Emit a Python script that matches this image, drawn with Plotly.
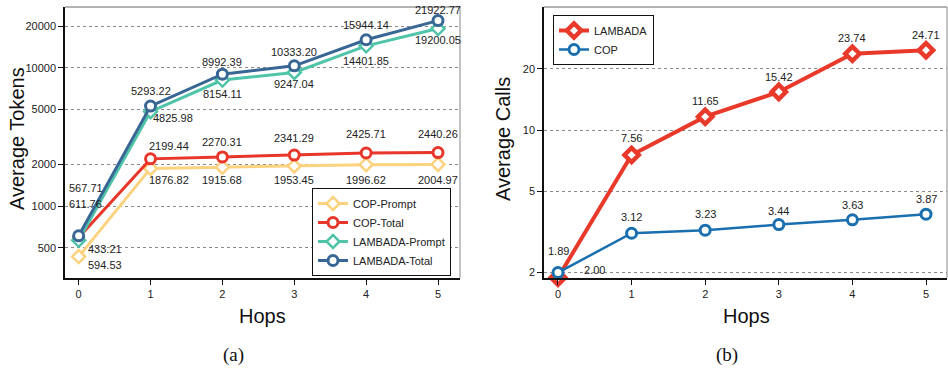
import numpy as np
import plotly.graph_objects as go

# ---------------- data ----------------
hops = [0, 1, 2, 3, 4, 5]
cop_prompt = [433.21, 1876.82, 1915.68, 1953.45, 1996.62, 2004.97]
cop_total = [594.53, 2199.44, 2270.31, 2341.29, 2425.71, 2440.26]
lambada_prompt = [567.71, 4825.98, 8154.11, 9247.04, 14401.85, 19200.05]
lambada_total = [611.76, 5293.22, 8992.39, 10333.20, 15944.14, 21922.77]
calls_lambada = [1.89, 7.56, 11.65, 15.42, 23.74, 24.71]
calls_cop = [2.00, 3.12, 3.23, 3.44, 3.63, 3.87]
token_ticks = [500, 1000, 2000, 5000, 10000, 20000]
calls_ticks = [2, 5, 10, 20]

# ---------------- styles ----------------
W, H = 948, 371
FONT = "Liberation Sans, Arial, Helvetica, sans-serif"
C_YEL, C_RED, C_TEAL, C_BLUE = "#FDD27E", "#E8362A", "#4FC4A9", "#386795"
C_RED2, C_BLUE2 = "#E8392B", "#1A6FAF"

def px_x(p):
    return p / W

def px_y(p):
    return 1 - p / H

# label offsets (dx right, dy down) in pixels
off_lam_total = [(7, -32), (0, -15), (0, -12), (0, -14), (0, -15), (0, -11)]
off_lam_prompt = [(7, -52), (22, 6), (0, 14), (0, 11), (0, 15), (0, 11)]
off_cop_total = [(26, 27), (18, -13), (0, -15), (0, -17), (0, -19), (0, -19)]
off_cop_prompt = [(26, -8), (18, 12), (0, 13), (0, 14), (0, 15), (0, 16)]
off_calls_lam = [(1, -27), (0, -17), (0, -16), (0, -15), (0, -16), (0, -15)]
off_calls_cop = [(37, -3), (0, -16), (0, -16), (0, -14), (0, -15), (0, -15)]

fig = go.Figure()

def add_series(x, y, name, color, symbol, xa, ya, legend, lw=3, ms=10, mlw=2.5, clip=True):
    fig.add_trace(go.Scatter(
        x=x, y=y, name=name, mode="lines+markers", xaxis=xa, yaxis=ya,
        legend=legend, cliponaxis=clip,
        line=dict(color=color, width=lw),
        marker=dict(symbol=symbol, size=ms, color="white",
                    line=dict(color=color, width=mlw)),
    ))

add_series(hops, cop_prompt, "COP-Prompt", C_YEL, "diamond", "x", "y", "legend", lw=3, ms=10, mlw=2.5)
add_series(hops, cop_total, "COP-Total", C_RED, "circle", "x", "y", "legend", lw=3, ms=10, mlw=3)
add_series(hops, lambada_prompt, "LAMBADA-Prompt", C_TEAL, "diamond", "x", "y", "legend", lw=3, ms=10, mlw=2.5)
add_series(hops, lambada_total, "LAMBADA-Total", C_BLUE, "circle", "x", "y", "legend", lw=3, ms=10, mlw=3)

add_series(hops, calls_lambada, "LAMBADA", C_RED2, "diamond", "x2", "y2", "legend2", lw=4, ms=11, mlw=4.5, clip=False)
add_series(hops, calls_cop, "COP", C_BLUE2, "circle", "x2", "y2", "legend2", lw=2.5, ms=10, mlw=3, clip=False)

annotations = []

def add_labels(x, y, offs, xref, yref):
    for xi, yi, (dx, dy) in zip(x, y, offs):
        annotations.append(dict(
            x=xi, y=np.log10(yi), xref=xref, yref=yref, text=f"{yi:.2f}",
            showarrow=False, xshift=dx, yshift=-dy,
            font=dict(family=FONT, size=11, color="#222"),
        ))

add_labels(hops, lambada_total, off_lam_total, "x", "y")
add_labels(hops, lambada_prompt, off_lam_prompt, "x", "y")
add_labels(hops, cop_total, off_cop_total, "x", "y")
add_labels(hops, cop_prompt, off_cop_prompt, "x", "y")
add_labels(hops, calls_lambada, off_calls_lam, "x2", "y2")
add_labels(hops, calls_cop, off_calls_cop, "x2", "y2")

# titles and captions
def text_ann(txt, x, y, size, angle=0, family=FONT):
    annotations.append(dict(
        text=txt, x=px_x(x), y=px_y(y), xref="paper", yref="paper",
        showarrow=False, textangle=angle, xanchor="center", yanchor="middle",
        font=dict(family=family, size=size, color="#111"),
    ))

text_ann("Average Tokens", 17, 139, 20, -90)
text_ann("Average Calls", 503, 139, 20, -90)
text_ann("Hops", 262, 316, 20)
text_ann("Hops", 746, 316, 20)
SERIF = "Liberation Serif, Times New Roman, serif"
text_ann("(a)", 233, 355, 19, family=SERIF)
text_ann("(b)", 727, 355, 19, family=SERIF)

# plot areas
L_X0, L_X1 = 65, 460
R_X0, R_X1 = 544, 947
Y_TOP, Y_BOT = 7, 278

axis_common = dict(
    showline=True, linecolor="#111", linewidth=1.5, mirror=False,
    ticks="outside", ticklen=5, tickwidth=1.3, tickcolor="#111",
    tickfont=dict(family=FONT, size=11, color="#222"), zeroline=False,
)

shapes = []
for x0, x1 in [(L_X0, L_X1), (R_X0, R_X1)]:
    shapes.append(dict(type="line", xref="paper", yref="paper",
                       x0=px_x(x0), x1=px_x(x1), y0=px_y(Y_TOP), y1=px_y(Y_TOP),
                       line=dict(color="#666", width=1)))
    shapes.append(dict(type="line", xref="paper", yref="paper",
                       x0=px_x(x1), x1=px_x(x1), y0=px_y(Y_TOP), y1=px_y(Y_BOT),
                       line=dict(color="#888", width=1)))

fig.update_layout(
    width=W, height=H, margin=dict(l=0, r=0, t=0, b=0),
    paper_bgcolor="white", plot_bgcolor="white",
    font=dict(family=FONT, size=11, color="#222"),
    xaxis=dict(domain=[px_x(L_X0), px_x(L_X1)], range=[-0.19, 5.306],
               tickvals=hops, showgrid=False, anchor="y", **axis_common),
    yaxis=dict(domain=[px_y(Y_BOT), px_y(Y_TOP)], type="log", range=[2.482, 4.439],
               tickvals=token_ticks, ticktext=[str(t) for t in token_ticks],
               showgrid=True, gridcolor="#8a8a8a", griddash="dot", gridwidth=1,
               anchor="x", **axis_common),
    xaxis2=dict(domain=[px_x(R_X0), px_x(R_X1)], range=[-0.19, 5.285],
                tickvals=hops, showgrid=False, anchor="y2", **axis_common),
    yaxis2=dict(domain=[px_y(Y_BOT), px_y(Y_TOP)], type="log", range=[0.2745, 1.605],
                tickvals=calls_ticks, ticktext=[str(t) for t in calls_ticks],
                showgrid=True, gridcolor="#8a8a8a", griddash="dot", gridwidth=1,
                anchor="x2", **axis_common),
    legend=dict(x=px_x(451), y=px_y(276), xanchor="right", yanchor="bottom",
                bgcolor="white", bordercolor="#111", borderwidth=1,
                font=dict(family=FONT, size=11, color="#222"),
                tracegroupgap=0, itemwidth=30),
    legend2=dict(x=px_x(553), y=px_y(15), xanchor="left", yanchor="top",
                 bgcolor="white", bordercolor="#111", borderwidth=1,
                 font=dict(family=FONT, size=11, color="#222"),
                 tracegroupgap=0, itemwidth=30),
    annotations=annotations,
    shapes=shapes,
)

fig.write_html(
    "out.html",
    config={"displayModeBar": False},
    post_script="document.body.style.margin='0';document.body.style.padding='0';",
)
